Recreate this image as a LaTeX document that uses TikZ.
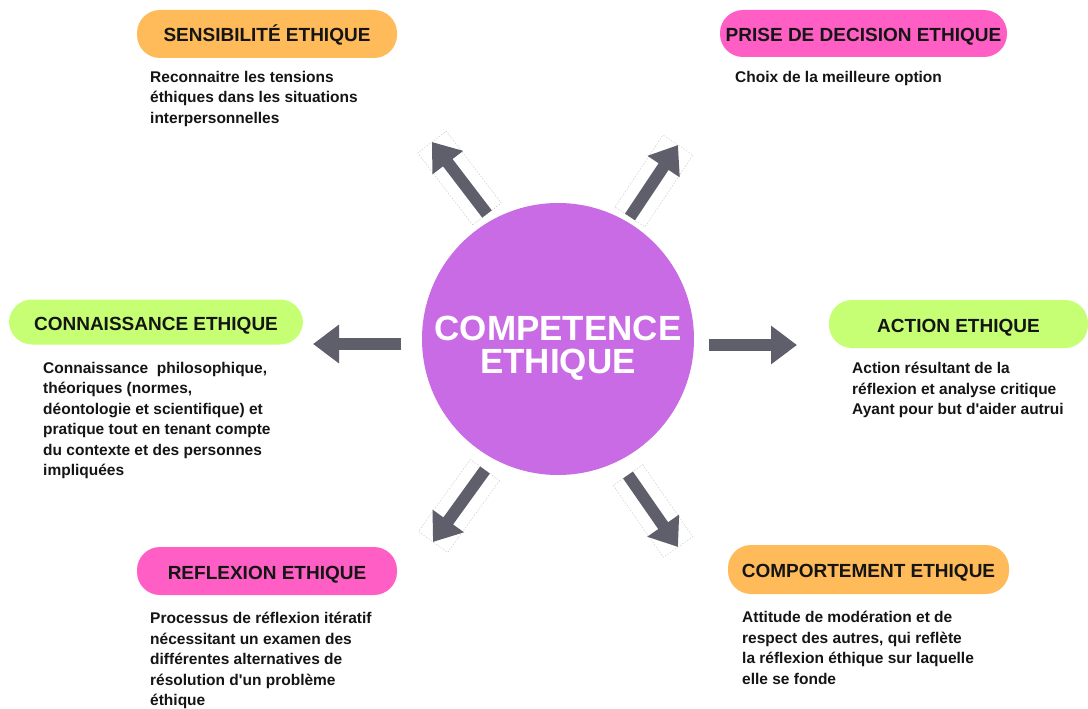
\documentclass[tikz,border=0pt]{standalone}
\usepackage{fontspec}
\setmainfont{Liberation Sans}
\usetikzlibrary{arrows.meta,calc}
\definecolor{ink}{HTML}{151515}
\definecolor{arrowgray}{HTML}{5F5E6B}
\definecolor{corepurple}{HTML}{C86BE5}
\definecolor{pillorange}{HTML}{FFBA5A}
\definecolor{pillpink}{HTML}{FF5EC4}
\definecolor{pillgreen}{HTML}{C6FF74}
\begin{document}
\begin{tikzpicture}[x=1pt,y=-1pt,
  pill/.style={rounded corners=23pt, inner sep=0pt, text=ink,
    text height=16pt, text depth=0pt,
    font=\bfseries\fontsize{19}{22}\selectfont},
  desc/.style={anchor=north west, align=left, inner sep=0pt, text=ink,
    font=\bfseries\fontsize{15.5}{20.5}\selectfont},
  fatarrow/.style={draw=arrowgray, line width=12pt, line cap=butt,
    -{Triangle[length=26pt,width=37pt]}},
  boxguide/.style={draw=gray!45, line width=0.4pt, dash pattern=on 1.5pt off 1.5pt}
]
\useasboundingbox (0,0) rectangle (1088,709);
\fill[white] (0,0) rectangle (1088,709);

% central circle
\node[circle, fill=corepurple, minimum size=272pt, inner sep=0pt] (core) at (558,339) {};
\node[text=white, align=center, font=\bfseries\fontsize{35}{33}\selectfont] (coretitle) at (558,348) {COMPETENCE\\ETHIQUE};

% headings
\node[pill, fill=pillorange, minimum width=260pt, minimum height=48pt] (p1) at (267,34) {SENSIBILITÉ ETHIQUE};
\node[pill, fill=pillpink, minimum width=287pt, minimum height=47pt] (p2) at (863.5,33.5) {PRISE DE DECISION ETHIQUE};
\node[pill, fill=pillgreen, minimum width=294pt, minimum height=45pt] (p3) at (156,322) {CONNAISSANCE ETHIQUE};
\node[pill, fill=pillgreen, minimum width=259pt, minimum height=48pt] (p4) at (958.5,324) {ACTION ETHIQUE};
\node[pill, fill=pillpink, minimum width=260pt, minimum height=48pt] (p5) at (267,571) {REFLEXION ETHIQUE};
\node[pill, fill=pillorange, minimum width=281pt, minimum height=49pt] (p6) at (868.5,569.5) {COMPORTEMENT ETHIQUE};

% descriptions
\node[desc] (d1) at (150,71) {Reconnaitre les tensions\\éthiques dans les situations\\interpersonnelles};
\node[desc] (d2) at (735,71) {Choix de la meilleure option};
\node[desc] (d3) at (43,362) {Connaissance\ \ philosophique,\\théoriques (normes,\\déontologie et scientifique) et\\pratique tout en tenant compte\\du contexte et des personnes\\impliquées};
\node[desc] (d4) at (852,362) {Action résultant de la\\réflexion et analyse critique\\Ayant pour but d\textquotesingle aider autrui};
\node[desc] (d5) at (150,612) {Processus de réflexion itératif\\nécessitant un examen des\\différentes alternatives de\\résolution d\textquotesingle un problème\\éthique};
\node[desc] (d6) at (742,611) {Attitude de modération et de\\respect des autres, qui reflète\\la réflexion éthique sur laquelle\\elle se fonde};

% arrow ends
\coordinate (s1) at (487,214); \coordinate (e1) at (432,142);
\coordinate (s2) at (630,217); \coordinate (e2) at (678,145);
\coordinate (s3) at (401,344); \coordinate (e3) at (313,344);
\coordinate (s4) at (709,345); \coordinate (e4) at (797,345);
\coordinate (s5) at (485,470); \coordinate (e5) at (433,542);
\coordinate (s6) at (628,475); \coordinate (e6) at (678,547);

% faint frames around the slanted arrows
\foreach \i in {1,2,5,6}{
  \draw[boxguide] ($(s\i)!18pt!90:(e\i)$) -- ($(e\i)!18pt!-90:(s\i)$)
    -- ($(e\i)!18pt!90:(s\i)$) -- ($(s\i)!18pt!-90:(e\i)$) -- cycle;
}

% arrows
\foreach \i in {1,...,6}{
  \draw[fatarrow] (s\i) -- (e\i);
}
\end{tikzpicture}
\end{document}
